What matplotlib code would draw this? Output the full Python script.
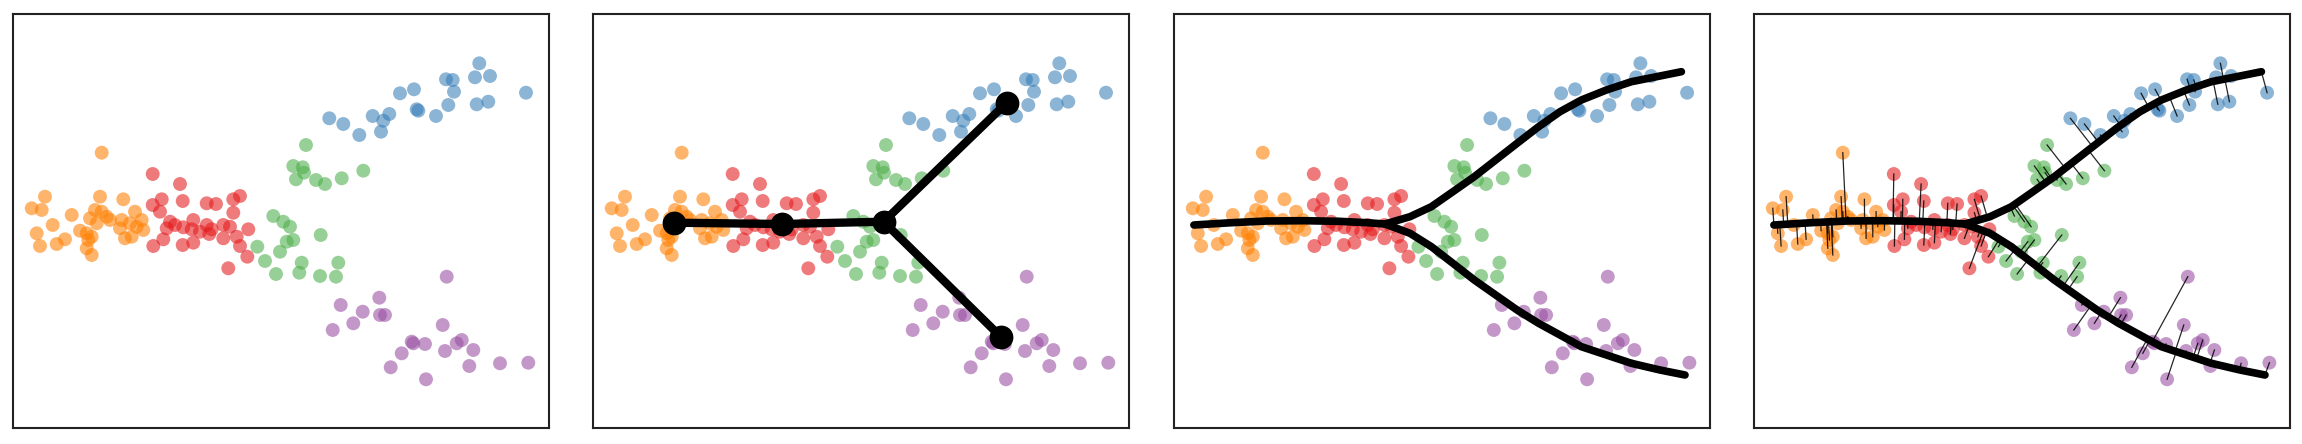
import numpy as np
import matplotlib
matplotlib.use("Agg")
import matplotlib.pyplot as plt

# point positions (pixels from the frame's top-left corner)
orange_x = [89.2, 32.5, 19.2, 29.2, 87.5, 110.8, 59.2, 40.2, 24.2, 27.5, 44.2, 52.5, 67.5, 75.8, 74.2, 79.2,
            82.5, 89.2, 94.2, 97.5, 77.5, 84.2, 107.5, 112.5, 122.5, 129.2, 130.8, 119.2, 117.5, 109.2, 124.2,
            74.2, 79.2]
orange_y = [138.7, 182.7, 194.3, 196, 182.7, 185.3, 201, 211, 219.3, 232, 230, 225.3, 216.7, 226, 234.3, 241,
            196, 197.7, 202.7, 206, 204.3, 209.3, 214.3, 224.3, 197.7, 206, 216, 222.7, 209.3, 206, 212.7,
            219.3, 222.7]

red_x = [140.2, 167.5, 140.2, 149.2, 170.2, 147.5, 194.2, 203.5, 220.8, 227.5, 220.8, 157.5, 162.5, 180.8,
         179.2, 194.2, 199.2, 210.8, 217.5, 235.8, 140.8, 150.8, 170.2, 180.8, 196.8, 210.8, 224.2, 227.5,
         234.8, 215.8, 154.2, 170.8, 187.5]
red_y = [160, 170, 191, 185.3, 187, 197.7, 189.3, 190, 185.3, 182, 198.7, 207.7, 211, 206, 215.3, 211, 215.3,
         211, 212.7, 215.3, 232, 225.3, 231, 228.7, 220, 224.3, 222.7, 232, 242.7, 254.3, 214.3, 213.3, 217.7]

green_x = [293.5, 280.8, 290.2, 291.5, 283.5, 303.5, 312.5, 329.2, 350.8, 260.8, 270.8, 277.5, 274.2, 280.8,
           267.5, 244.8, 308.2, 252.5, 289.2, 286.8, 263.5, 307.5, 323.5, 325.8]
green_y = [131, 152, 153.3, 158.7, 165.3, 166, 170, 164.3, 156.7, 202, 207.7, 212.7, 227.7, 226, 237.7, 232.7,
           221, 247, 248.7, 258.7, 260, 262, 262.7, 248.7]

blue_x = [466.8, 462.5, 477.5, 433.5, 440.2, 441.5, 401.5, 387.5, 513.5, 435.8, 464.2, 475.8, 404.2, 405.8,
          423.5, 360.2, 376.8, 370.8, 316.8, 330.8, 346.8, 368.5]
blue_y = [49.3, 63.3, 62, 65.3, 66, 77.7, 75.3, 79.3, 78.7, 91, 90.3, 87.7, 95.3, 96.7, 102, 102, 100, 106.7,
          104.3, 110, 121, 117.7]

purple_x = [434.2, 366.8, 328.2, 350.2, 367.5, 372.5, 340.8, 320.2, 430.2, 399.2, 400.8, 412.5, 389.2, 432.5,
            449.2, 444.2, 460.8, 378.2, 456.8, 487.5, 515.8, 413.5]
purple_y = [262.7, 283.7, 291, 297.7, 301, 301, 309.3, 316, 311, 327.7, 329.3, 330, 339.3, 337, 326, 329.3, 336,
            353.3, 352, 349.3, 348.7, 365.3]

# tree in panel 2: node positions and edges
node_x = [81.1, 189.3, 291.1, 414.3, 408.2]
node_y = [208.7, 210, 207.7, 88.7, 322.7]
edges = [(0, 1), (1, 2), (2, 3), (2, 4)]

# principal curves in panels 3 and 4
upper_x = [20.3, 57.8, 93.5, 129.3, 165, 193.5, 211.4, 236.4, 257.8, 279.3, 300.7, 322.1, 343.5, 365, 386.4,
           407.8, 432.8, 457.8, 486.4, 507.8]
upper_y = [211, 208.7, 207, 206.7, 207.3, 208.7, 210, 202.7, 192.7, 177.7, 162.7, 146, 129.3, 112.7, 97.7,
           86, 76, 67.7, 62, 57.7]
lower_x = [211.4, 236.4, 257.8, 279.3, 300.7, 322.1, 343.5, 365, 386.4, 407.8, 432.8, 457.8, 486.4, 511.4]
lower_y = [210, 219.3, 232.7, 249.3, 266, 281, 296, 309.3, 321, 332.7, 341, 349.3, 356, 361]

W, H = 536.5, 414
groups = [
    (orange_x, orange_y, '#ff7f00'),
    (red_x, red_y, '#e41a1c'),
    (green_x, green_y, '#4daf4a'),
    (blue_x, blue_y, '#377eb8'),
    (purple_x, purple_y, '#984ea3'),
]


def draw_points(ax):
    for xs, ys, c in groups:
        ax.scatter(xs, ys, s=100, color=c, alpha=0.58, edgecolors='none', zorder=2)


def project(px, py, cx, cy):
    # nearest point on polyline
    best = None
    for i in range(len(cx) - 1):
        a = np.array([cx[i], cy[i]])
        b = np.array([cx[i + 1], cy[i + 1]])
        d = b - a
        t = np.clip(np.dot([px, py] - a, d) / np.dot(d, d), 0, 1)
        q = a + t * d
        dist = np.hypot(px - q[0], py - q[1])
        if best is None or dist < best[0]:
            best = (dist, q)
    return best


fig = plt.figure(figsize=(23.02, 4.44), dpi=100)
lefts = [12.5, 592.5, 1173.6, 1753.6]
axes = []
for l in lefts:
    ax = fig.add_axes([l / 2302, 16 / 444, W / 2302, H / 444])
    ax.set_xlim(0, W)
    ax.set_ylim(H, 0)
    ax.set_xticks([])
    ax.set_yticks([])
    for sp in ax.spines.values():
        sp.set_linewidth(1.5)
        sp.set_color('#222222')
    draw_points(ax)
    axes.append(ax)

# panel 2: tree
ax = axes[1]
for i, j in edges:
    ax.plot([node_x[i], node_x[j]], [node_y[i], node_y[j]], color='black', lw=6, zorder=3,
            solid_capstyle='round')
ax.scatter(node_x, node_y, s=260, color='black', zorder=4)

# panel 3: curves
for ax in axes[2:]:
    ax.plot(upper_x, upper_y, color='black', lw=5.5, zorder=4, solid_capstyle='round', solid_joinstyle='round')
    ax.plot(lower_x, lower_y, color='black', lw=5.5, zorder=4, solid_capstyle='round', solid_joinstyle='round')

# panel 4: projections onto curve
ax = axes[3]
for xs, ys, c in groups:
    for px, py in zip(xs, ys):
        d1, q1 = project(px, py, upper_x, upper_y)
        d2, q2 = project(px, py, lower_x, lower_y)
        q = q1 if d1 <= d2 else q2
        ax.plot([px, q[0]], [py, q[1]], color='black', lw=0.9, alpha=0.85, zorder=3)

fig.savefig('out.png', dpi=100)
